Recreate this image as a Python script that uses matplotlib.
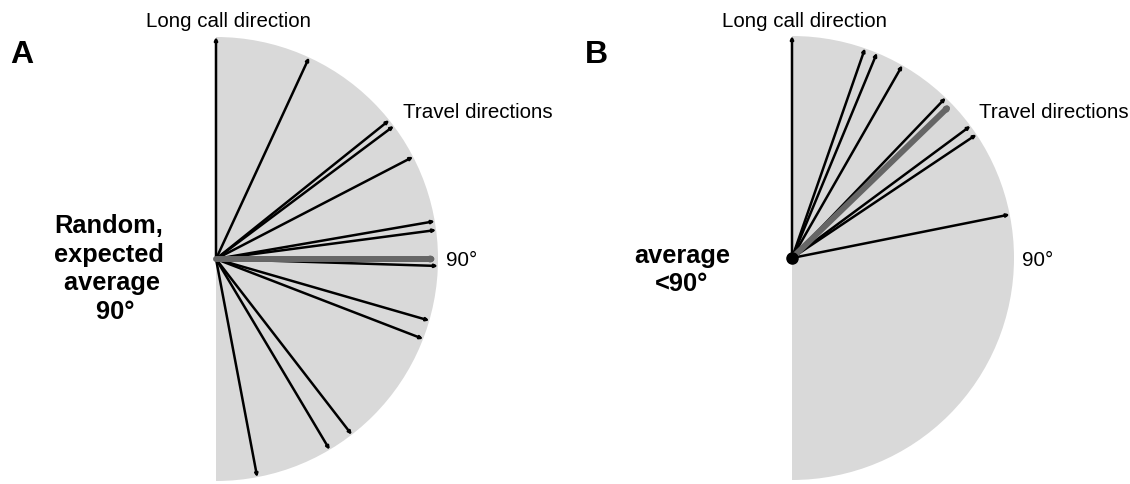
import numpy as np
import matplotlib.pyplot as plt
from matplotlib.patches import Wedge

plt.rcParams["font.family"] = ["Liberation Sans", "DejaVu Sans"]

# angles in degrees, clockwise from the long call direction (straight up)
call_angle = 0
travel_a = [24.8, 51.3, 53.2, 62.6, 80.2, 82.5, 91.8, 106.1, 111.1, 142.3, 149.2, 169.3]
mean_a = 90
travel_b = [19.2, 22.5, 29.8, 43.8, 53.5, 56.2, 78.7]
mean_b = 46

panel_labels = ["A", "B"]
side_texts = ["Random,\nexpected\n average\n  90°", "average\n<90°"]

W, H = 1130, 484
R = 222  # radius in pixels


def xy(angle, r=1.0):
    t = np.deg2rad(angle)
    return r * np.sin(t), r * np.cos(t)


def arrow(ax, angle, color="black", lw=1.8, ms=4):
    ax.annotate("", xy=xy(angle), xytext=(0, 0),
                arrowprops=dict(arrowstyle="-|>", color=color, lw=lw,
                                mutation_scale=ms, shrinkA=0, shrinkB=0))


def draw_panel(ax, cx, cy, left, travel, mean, dot=False):
    width = W / 2
    ax.set_xlim((left - cx) / R, (left + width - cx) / R)
    ax.set_ylim((cy - H) / R, cy / R)
    ax.axis("off")
    ax.add_patch(Wedge((0, 0), 1, -90, 90, color="#d9d9d9", lw=0))
    arrow(ax, call_angle)
    for a in travel:
        arrow(ax, a)
    arrow(ax, mean, color="#666666", lw=4.3, ms=2)
    if dot:
        ax.plot(0, 0, "o", color="black", ms=8, zorder=5)


fig = plt.figure(figsize=(W / 100, H / 100), dpi=100)
ax_a = fig.add_axes([0, 0, 0.5, 1])
ax_b = fig.add_axes([0.5, 0, 0.5, 1])

draw_panel(ax_a, 216, 259, 0, travel_a, mean_a)
draw_panel(ax_b, 792, 258, W / 2, travel_b, mean_b, dot=True)


def ftext(px, py, s, **kw):
    fig.text(px / W, 1 - py / H, s, **kw)


for cx, lab_x, lab in [(216, 10, panel_labels[0]), (792, 585, panel_labels[1])]:
    ftext(lab_x, 63, lab, fontsize=23, fontweight="bold", ha="left", va="baseline")
    ftext(cx + 12, 27, "Long call direction", fontsize=14.8, ha="center", va="baseline")
    ftext(cx + 187, 118, "Travel directions", fontsize=14.8, ha="left", va="baseline")
    ftext(cx + 230, 266.5, "90°", fontsize=14.8, ha="left", va="baseline")

ftext(108.5, 269, side_texts[0], fontsize=18.3, fontweight="bold",
      ha="center", va="center", multialignment="center", linespacing=1.25)
ftext(682, 270, side_texts[1], fontsize=18.3, fontweight="bold",
      ha="center", va="center", multialignment="center", linespacing=1.25)

fig.savefig("out.png", dpi=100)
